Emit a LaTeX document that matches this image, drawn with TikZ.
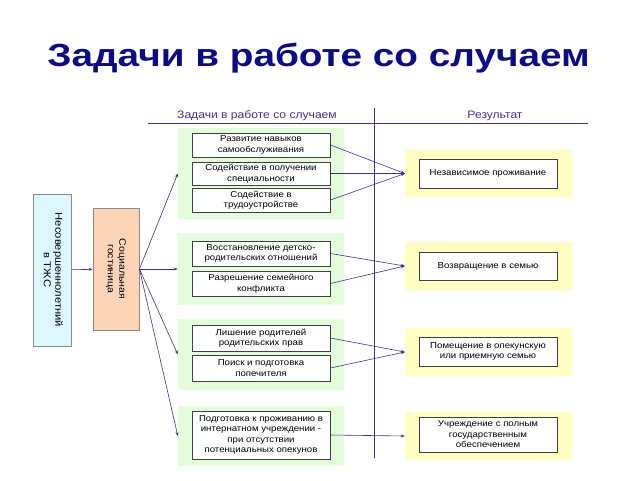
\documentclass[tikz,border=0pt]{standalone}
\usepackage{fontspec}
\setmainfont{Liberation Sans}[FakeStretch=1.12]
\newfontfamily\titlefont{Liberation Sans}[FakeStretch=1.21]
\usetikzlibrary{arrows.meta,positioning}

\definecolor{navy}{RGB}{12,12,128}
\definecolor{linecol}{RGB}{60,50,140}
\definecolor{grp}{RGB}{228,252,220}
\definecolor{res}{RGB}{255,255,196}
\definecolor{cyanbox}{RGB}{220,247,255}
\definecolor{peach}{RGB}{250,212,182}

\tikzset{
  small/.style={font=\fontsize{8.6}{10.5}\selectfont},
  taskbox/.style={draw=black!75,fill=white,line width=0.9pt,minimum width=138,align=center,small,inner sep=1pt},
  resbox/.style={draw=black!75,fill=white,line width=0.9pt,minimum width=138,align=center,small,inner sep=1pt},
  grpbox/.style={fill=grp,minimum width=166,inner sep=0pt},
  yelbox/.style={fill=res,minimum width=167,inner sep=0pt},
  conn/.style={draw=linecol,line width=0.6pt,-{Stealth[length=4pt,width=3pt]}}
}

\begin{document}
\begin{tikzpicture}[x=1pt,y=-1pt]
      \useasboundingbox (0,0) rectangle (640,480);

      \node[anchor=base,text=navy,font=\titlefont\fontsize{32}{36}\selectfont\bfseries] (title) at (318.5,66) {Задачи в работе со случаем};

      % headers
      \node[anchor=base,text=linecol,font=\fontsize{10.8}{12}\selectfont] (h1) at (257,118) {Задачи в работе со случаем};
      \node[anchor=base,text=linecol,font=\fontsize{10.8}{12}\selectfont] (h2) at (495,118) {Результат};
      \coordinate (l1) at (148,123);
      \coordinate (l2) at (588,123);
      \coordinate (v1) at (374,108);
      \coordinate (v2) at (374,458);
      \draw[linecol,line width=0.9pt] (l1)--(l2);
      \draw[linecol,line width=0.9pt] (v1)--(v2);

      % left boxes
      \node[draw=black!45,fill=cyanbox,line width=0.9pt,minimum width=38,minimum height=152] (child) at (52,270)
        {\rotatebox[origin=c]{-90}{\fontsize{10}{11.5}\selectfont\begin{tabular}{@{}c@{}}Несовершеннолетний\\в ТЖС\end{tabular}}};
      \node[draw=black!45,fill=peach,line width=0.9pt,minimum width=46,minimum height=122] (hotel) at (116,269)
        {\rotatebox[origin=c]{-90}{\fontsize{9.4}{11.5}\selectfont\begin{tabular}{@{}c@{}}Социальная\\гостиница\end{tabular}}};
      \draw[conn] (child)--(hotel);

      % task groups
      \node[grpbox,minimum height=91] (g1) at (261,173.5) {};
      \node[grpbox,minimum height=72] (g2) at (261,269) {};
      \node[grpbox,minimum height=71] (g3) at (261,354.5) {};
      \node[grpbox,minimum height=60] (g4) at (261,436) {};

      \node[taskbox,minimum height=24] (t1) at (261,145) {Развитие навыков\\самообслуживания};
      \node[taskbox,minimum height=23] (t2) at (261,173.5) {Содействие в получении\\специальности};
      \node[taskbox,minimum height=24] (t3) at (261,200) {Содействие в\\трудоустройстве};
      \node[taskbox,minimum height=25] (t4) at (261,253.5) {Восстановление детско-\\родительских отношений};
      \node[taskbox,minimum height=25] (t5) at (261,283.5) {Разрешение семейного\\конфликта};
      \node[taskbox,minimum height=26] (t6) at (261,338) {Лишение родителей\\родительских прав};
      \node[taskbox,minimum height=26] (t7) at (261,368) {Поиск и подготовка\\попечителя};
      \node[taskbox,minimum height=48] (t8) at (261,435) {Подготовка к проживанию в\\интернатном учреждении -\\при отсутствии\\потенциальных опекунов};

      % results
      \node[yelbox,minimum height=47] (y1) at (488.5,173.5) {};
      \node[yelbox,minimum height=48] (y2) at (488.5,266) {};
      \node[yelbox,minimum height=48] (y3) at (488.5,352) {};
      \node[yelbox,minimum height=48] (y4) at (488.5,436) {};

      \node[resbox,minimum height=29] (r1) at (488,173.5) {Независимое проживание};
      \node[resbox,minimum height=28] (r2) at (488,266) {Возвращение в семью};
      \node[resbox,minimum height=29] (r3) at (488,351.5) {Помещение в опекунскую\\или приемную семью};
      \node[resbox,minimum height=35] (r4) at (488,434.5) {Учреждение с полным\\государственным\\обеспечением};

      % connectors
      \foreach \g in {g1,g2,g3,g4}
        \draw[conn] (hotel.east)--(\g.west);
      \foreach \t/\y in {t1/y1,t2/y1,t3/y1,t4/y2,t5/y2,t6/y3,t7/y3,t8/y4}
        \draw[conn] (\t.east)--(\y.west);
\end{tikzpicture}
\end{document}
